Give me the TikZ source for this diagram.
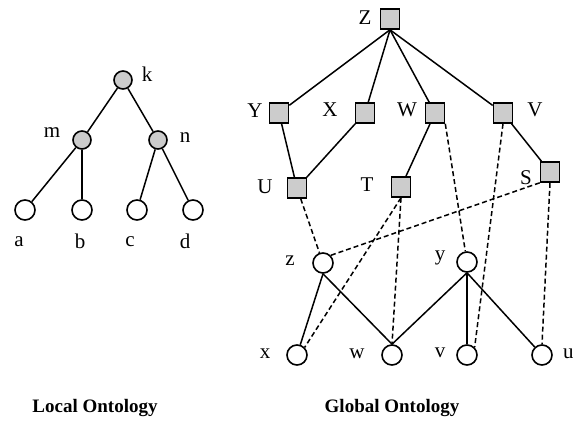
\documentclass[tikz,border=0pt]{standalone}
\usepackage{fontspec}
\setmainfont{Liberation Serif}
\begin{document}
\begin{tikzpicture}[x=1pt,y=-1pt,
  every node/.style={font=\fontsize{21}{24}\selectfont},
  leaf/.style={circle,draw,line width=1.6pt,minimum size=20pt,inner sep=0pt,fill=white},
  inner/.style={circle,draw,line width=1.6pt,minimum size=18pt,inner sep=0pt,fill=gray!40},
  sq/.style={rectangle,draw,line width=1.6pt,minimum width=19pt,minimum height=20pt,inner sep=0pt,fill=gray!40},
  lbl/.style={inner sep=0pt},
  edge/.style={line width=1.5pt},
  dedge/.style={line width=1.5pt,dash pattern=on 5pt off 3pt},
  captext/.style={font=\fontsize{19}{22}\selectfont\bfseries,inner sep=0pt}]
\useasboundingbox (0,0) rectangle (573,425);
% Local ontology
\node[inner] (k) at (123,80) {};
\node[inner] (m) at (82,140) {};
\node[inner] (n) at (158,140) {};
\node[leaf] (a) at (25,210) {};
\node[leaf] (b) at (82,210) {};
\node[leaf] (c) at (137,210) {};
\node[leaf] (d) at (193,210) {};
\node[lbl] (lk) at (147,74) {k};
\node[lbl] (lm) at (52,133) {m};
\node[lbl] (ln) at (185,138) {n};
\node[lbl] (la) at (19,242) {a};
\node[lbl] (lb) at (80,241) {b};
\node[lbl] (lc) at (130,242) {c};
\node[lbl] (ld) at (185,241) {d};
\draw[edge] (k) -- (m);
\draw[edge] (k) -- (n);
\draw[edge] (m) -- (a);
\draw[edge] (m) -- (b);
\draw[edge] (n) -- (c);
\draw[edge] (n) -- (d);
% Global ontology
\node[sq] (Z) at (390,19) {};
\node[sq] (Y) at (279,113) {};
\node[sq] (X) at (365,113) {};
\node[sq] (W) at (435,113) {};
\node[sq] (V) at (503,113) {};
\node[sq] (U) at (297,188) {};
\node[sq] (T) at (401,187) {};
\node[sq] (S) at (550,172) {};
\node[leaf] (z) at (323,263) {};
\node[leaf] (y) at (467,262) {};
\node[leaf] (x) at (297,355) {};
\node[leaf] (w) at (392,355) {};
\node[leaf] (v) at (467,355) {};
\node[leaf] (u) at (542,355) {};
\node[lbl] (lZ) at (365,18) {Z};
\node[lbl] (lY) at (255,111) {Y};
\node[lbl] (lX) at (330,110) {X};
\node[lbl] (lW) at (407,110) {W};
\node[lbl] (lV) at (535,110) {V};
\node[lbl] (lU) at (265,187) {U};
\node[lbl] (lT) at (367,185) {T};
\node[lbl] (lS) at (526,178) {S};
\node[lbl] (lz) at (290,261) {z};
\node[lbl] (ly) at (440,258) {y};
\node[lbl] (lx) at (265,354) {x};
\node[lbl] (lw) at (357,354) {w};
\node[lbl] (lv) at (440,353) {v};
\node[lbl,anchor=west] (lu) at (563,354) {u};
\draw[edge] (Z.south) -- (Y);
\draw[edge] (Z.south) -- (X);
\draw[edge] (Z.south) -- (W);
\draw[edge] (Z.south) -- (V);
\draw[edge] (Y) -- (U);
\draw[edge] (X) -- (U);
\draw[edge] (W) -- (T);
\draw[edge] (V) -- (S);
\draw[edge] (z.south) -- (x);
\draw[edge] (z.south) -- (w.north);
\draw[edge] (y.south) -- (w.north);
\draw[edge] (y.south) -- (v);
\draw[edge] (y.south) -- (u);
\draw[dedge] (U) -- (z);
\draw[dedge] (W.south east) -- (y);
\draw[dedge] (V.south) -- (v.north east);
\draw[dedge] (S.south west) -- (z.north east);
\draw[dedge] (S.south) -- (u.north);
\draw[dedge] (T.south) -- (x.north east);
\draw[dedge] (T.south) -- (w.north);
\node[captext] (c1) at (95,408) {Local Ontology};
\node[captext] (c2) at (392,408) {Global Ontology};
\end{tikzpicture}
\end{document}
